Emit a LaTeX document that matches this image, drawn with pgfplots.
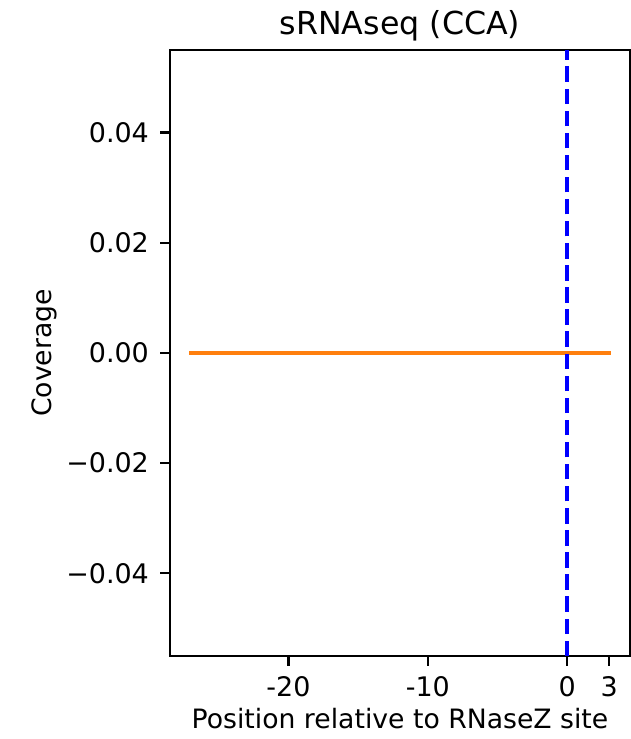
\documentclass[border=0pt]{standalone}
\usepackage{fontspec}
\setmainfont{DejaVu Sans}
\usepackage{pgfplots}
\pgfplotsset{compat=1.18}
\definecolor{taborange}{HTML}{FF7F0E}
\definecolor{mplblue}{HTML}{0000FF}
\begin{document}
\begin{tikzpicture}
\begin{axis}[
  scale only axis, width=165.6pt, height=218.2pt,
  xmin=-28.5, xmax=4.5, ymin=-0.055, ymax=0.055,
  scaled y ticks=false, scaled x ticks=false,
  xtick={-20,-10,0,3}, xticklabels={-20,-10,0,3},
  ytick={-0.04,-0.02,0,0.02,0.04},
  yticklabels={−0.04,−0.02,0.00,0.02,0.04},
  tick align=outside, major tick length=3.5pt,
  xtick pos=bottom, ytick pos=left,
  tick style={black, line width=0.8pt},
  axis line style={line width=0.8pt},
  xticklabel style={anchor=north, inner sep=0pt, yshift=-3.6pt, font=\fontsize{9.7}{12}\selectfont},
  yticklabel style={anchor=east, inner sep=0pt, xshift=-3.9pt, font=\fontsize{9.7}{12}\selectfont},
  every axis title/.style={at={(axis description cs:0.5,1)}, anchor=base, yshift=5.5pt, inner sep=0pt, font=\fontsize{11.4}{14}\selectfont},
  title={sRNAseq (CCA)},
  every axis x label/.style={at={(axis description cs:0.5,0)}, anchor=base, yshift=-26pt, inner sep=0pt, font=\fontsize{9.6}{12}\selectfont},
  xlabel={Position relative to RNaseZ site},
  every axis y label/.style={at={([xshift=-45.4pt]axis description cs:0,0.5)}, anchor=center, rotate=90, inner sep=0pt, font=\fontsize{9.6}{12}\selectfont},
  ylabel={Coverage},
  clip=true,
]
\addplot[taborange, line width=1.5pt, line cap=rect, mark=none] coordinates {
(-27,0) (-26,0) (-25,0) (-24,0) (-23,0) (-22,0) (-21,0) (-20,0) (-19,0) (-18,0)
(-17,0) (-16,0) (-15,0) (-14,0) (-13,0) (-12,0) (-11,0) (-10,0) (-9,0) (-8,0)
(-7,0) (-6,0) (-5,0) (-4,0) (-3,0) (-2,0) (-1,0) (0,0) (1,0) (2,0) (3,0)
};
\addplot[mplblue, line width=1.5pt, dash pattern=on 5.55pt off 2.4pt, mark=none] coordinates {(0,-0.055) (0,0.055)};
\end{axis}
\pgfresetboundingbox
\path[use as bounding box] (current axis.south west) ++(-61.2pt,-29.88pt) rectangle ++(227.16pt,266.04pt);
\end{tikzpicture}
\end{document}
